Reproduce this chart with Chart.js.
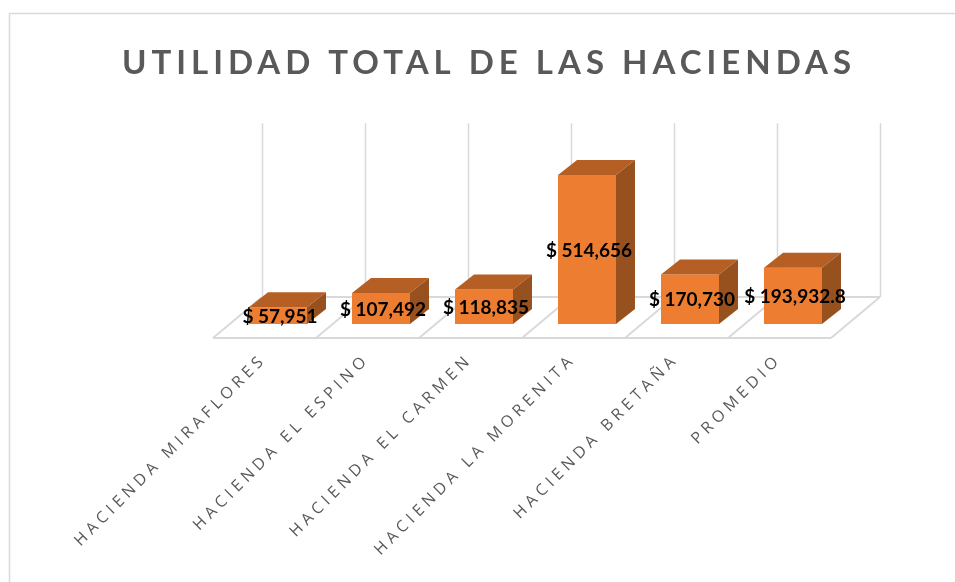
<!DOCTYPE html>
<html>
<head>
<meta charset="utf-8">
<script src="https://cdn.jsdelivr.net/npm/chart.js@4.4.0/dist/chart.umd.min.js"></script>
<style>
  html, body { margin: 0; padding: 0; background: #fff; }
  #wrap { width: 955px; height: 582px; position: relative; }
</style>
</head>
<body>
<div id="wrap"><canvas id="utilidadChart"></canvas></div>
<script>
// datos
const haciendas = ['HACIENDA MIRAFLORES', 'HACIENDA EL ESPINO', 'HACIENDA EL CARMEN', 'HACIENDA LA MORENITA', 'HACIENDA BRETAÑA', 'PROMEDIO'];
const utilidad = [57951, 107492, 118835, 514656, 170730, 193932.8];
const ejeMin = 0;
const ejeMax = 600000;

// estilos
const naranja = '#ED7D31';
const naranjaArriba = '#B65F24';
const naranjaLado = '#97511F';
const gris = '#d9d9d9';
const textoGris = '#595959';
const prof = { dx: 19, dy: -15 };                                // profundidad de cada barra
const piso = { frenteX: -13.5, frenteY: 14, atrasX: 35.5, atrasY: -27 };

const formato = v => '$ ' + v.toLocaleString('en-US', { maximumFractionDigits: 1 });

const efecto3d = {
    id: 'efecto3d',
    afterUpdate(chart) {
        // espaciado de letras en las etiquetas del eje
        const sx = chart.scales.x;
        if (!sx._espaciado) {
            const original = sx.drawLabels.bind(sx);
            sx.drawLabels = function (area) {
                const c = chart.ctx;
                c.save();
                c.letterSpacing = '4.5px';
                original(area);
                c.restore();
            };
            sx._espaciado = true;
        }
    },
    beforeDraw(chart) {
        const c = chart.ctx;
        c.save();
        c.strokeStyle = gris;
        c.lineWidth = 1.5;
        c.strokeRect(9.5, 13.5, 1200, 1000);
        c.restore();
        c.letterSpacing = '5px'; // título
    },
    beforeDatasetsDraw(chart) {
        const c = chart.ctx;
        c.letterSpacing = '0px';
        const a = chart.chartArea;
        const sx = chart.scales.x;
        const paso = sx.getPixelForValue(1) - sx.getPixelForValue(0);
        const x0 = sx.getPixelForValue(0) - paso / 2;
        const n = haciendas.length;
        c.save();
        c.strokeStyle = gris;
        c.lineWidth = 2;
        c.beginPath();
        // piso: borde delantero y trasero
        c.moveTo(x0 + piso.frenteX, a.bottom + piso.frenteY);
        c.lineTo(x0 + n * paso + piso.frenteX, a.bottom + piso.frenteY);
        c.moveTo(x0 + piso.atrasX, a.bottom + piso.atrasY);
        c.lineTo(x0 + n * paso + piso.atrasX, a.bottom + piso.atrasY);
        for (let i = 0; i <= n; i++) {
            const bx = x0 + i * paso;
            c.moveTo(bx + piso.frenteX, a.bottom + piso.frenteY);
            c.lineTo(bx + piso.atrasX, a.bottom + piso.atrasY);
        }
        c.stroke();
        // pared del fondo
        c.lineWidth = 1.5;
        c.beginPath();
        for (let i = 0; i <= n; i++) {
            const bx = Math.round(x0 + i * paso + piso.atrasX) + 0.5;
            c.moveTo(bx, a.bottom + piso.atrasY);
            c.lineTo(bx, a.top + piso.atrasY);
        }
        c.stroke();
        c.restore();
    },
    afterDatasetsDraw(chart) {
        const c = chart.ctx;
        const meta = chart.getDatasetMeta(0);
        c.save();
        meta.data.forEach((bar, i) => {
            const { x, y, base, width } = bar.getProps(['x', 'y', 'base', 'width'], true);
            const l = x - width / 2, r = x + width / 2;
            // cara superior
            c.fillStyle = naranjaArriba;
            c.beginPath();
            c.moveTo(l, y);
            c.lineTo(l + prof.dx, y + prof.dy);
            c.lineTo(r + prof.dx, y + prof.dy);
            c.lineTo(r, y);
            c.closePath();
            c.fill();
            // cara lateral
            c.fillStyle = naranjaLado;
            c.beginPath();
            c.moveTo(r, y);
            c.lineTo(r + prof.dx, y + prof.dy);
            c.lineTo(r + prof.dx, base + prof.dy);
            c.lineTo(r, base);
            c.closePath();
            c.fill();
        });
        // etiquetas de valor
        c.letterSpacing = '0px';
        c.font = 'bold 19px Lato';
        c.fillStyle = '#000';
        c.textAlign = 'center';
        c.textBaseline = 'middle';
        meta.data.forEach((bar, i) => {
            const { x, y, base } = bar.getProps(['x', 'y', 'base'], true);
            c.fillText(formato(utilidad[i]), x + 2, (y + base) / 2 + 1);
        });
        c.restore();
    }
};

const ctx = document.getElementById('utilidadChart').getContext('2d');

const utilidadChart = new Chart(ctx, {
    type: 'bar',
    data: {
        labels: haciendas,
        datasets: [{
            data: utilidad,
            backgroundColor: naranja,
            borderWidth: 0,
            barPercentage: 0.563,
            categoryPercentage: 1
        }]
    },
    options: {
        responsive: true,
        maintainAspectRatio: false,
        animation: false,
        layout: { padding: { left: 23, right: 0, top: 0, bottom: 0 } },
        plugins: {
            legend: { display: false },
            tooltip: { enabled: false },
            title: {
                display: true,
                text: 'UTILIDAD TOTAL DE LAS HACIENDAS',
                color: textoGris,
                font: { family: 'Lato', size: 33, weight: 'bold', lineHeight: 1.2 },
                padding: { top: 44, bottom: 66.7 }
            }
        },
        scales: {
            x: {
                grid: { display: false, drawTicks: false },
                border: { display: false },
                ticks: {
                    color: textoGris,
                    font: { family: 'Open Sans', size: 16 },
                    minRotation: 45,
                    maxRotation: 45,
                    autoSkip: false,
                    padding: 26,
                    labelOffset: -14
                },
                afterFit(s) {
                    s.height = 258;
                    s.paddingLeft = 226.5;
                    s.paddingRight = 110.5;
                }
            },
            y: {
                display: false,
                min: ejeMin,
                max: ejeMax
            }
        }
    },
    plugins: [efecto3d]
});
</script>
</body>
</html>
